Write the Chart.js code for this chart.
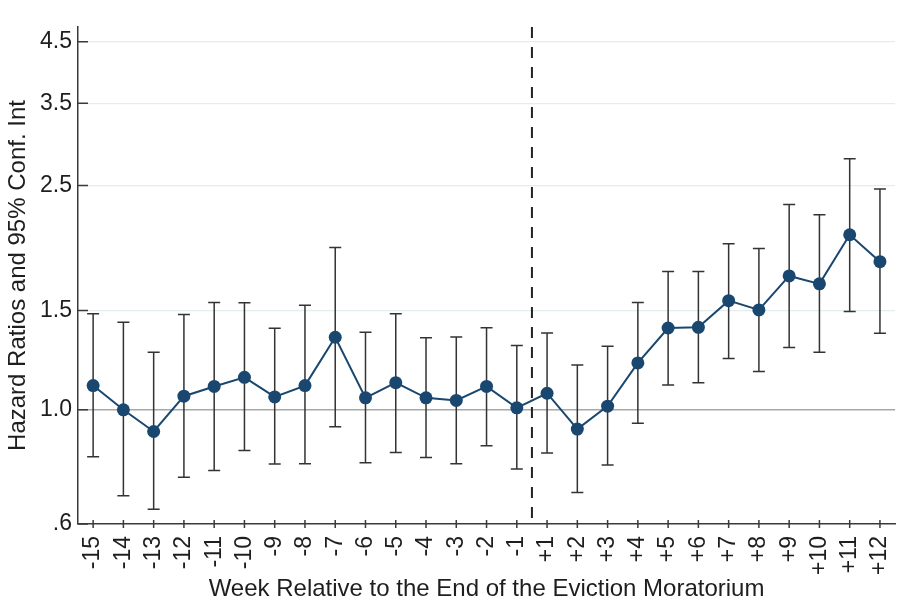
<!DOCTYPE html>
<html>
<head>
<meta charset="utf-8">
<title>Hazard Ratios by Week Relative to the End of the Eviction Moratorium</title>
<script src="https://cdn.jsdelivr.net/npm/chart.js@4/dist/chart.umd.min.js"></script>
<style>
  html, body { margin: 0; padding: 0; background: #ffffff; }
  #wrap { width: 920px; height: 607px; }
</style>
</head>
<body>
<div id="wrap"><canvas id="chart" width="920" height="607"></canvas></div>
<script>
// Weeks relative to the end of the moratorium
const weeks = ['-15','-14','-13','-12','-11','-10','-9','-8','-7','-6','-5','-4','-3','-2','-1',
               '+1','+2','+3','+4','+5','+6','+7','+8','+9','+10','+11','+12'];

// Hazard ratio point estimates
const hazardRatio = [1.104, 1.000, 0.915, 1.057, 1.100, 1.142, 1.054, 1.104, 1.345, 1.050, 1.117, 1.050, 1.039, 1.100, 1.008,
                     1.070, 0.924, 1.015, 1.211, 1.397, 1.401, 1.562, 1.504, 1.728, 1.673, 2.045, 1.832];

// 95% confidence interval bounds
const ciLower = [0.825, 0.704, 0.666, 0.759, 0.780, 0.847, 0.801, 0.802, 0.933, 0.805, 0.840, 0.823, 0.802, 0.863, 0.785,
                 0.838, 0.713, 0.798, 0.946, 1.107, 1.117, 1.233, 1.169, 1.290, 1.265, 1.494, 1.367];
const ciUpper = [1.480, 1.430, 1.265, 1.476, 1.551, 1.548, 1.395, 1.533, 1.942, 1.373, 1.481, 1.343, 1.347, 1.399, 1.300,
                 1.369, 1.201, 1.297, 1.551, 1.759, 1.759, 1.971, 1.934, 2.315, 2.219, 2.789, 2.465];

// Y axis (log scale) range, ticks and their labels
const yAxisMin = 0.627;
const yAxisMax = 4.78;
const yTickValues = [0.627, 1.0, 1.5, 2.5, 3.5, 4.5];
const yTickLabels = ['.6', '1.0', '1.5', '2.5', '3.5', '4.5'];

// Index after which the moratorium ends (between -1 and +1)
const moratoriumEndAfter = 14;

const FONT = "'Liberation Sans', Arial, sans-serif";
const TEXT = '#1e1e1e';
const AXIS = '#3a3a3a';
const NAVY = '#1a476f';

const annotations = {
  id: 'annotations',
  beforeDatasetsDraw(chart) {
    const { ctx, chartArea, scales: { x, y } } = chart;
    ctx.save();
    // reference line at HR = 1
    const y1 = y.getPixelForValue(1);
    ctx.strokeStyle = '#a8a8a8';
    ctx.lineWidth = 1.5;
    ctx.beginPath();
    ctx.moveTo(chartArea.left, y1);
    ctx.lineTo(chartArea.right, y1);
    ctx.stroke();

    // confidence interval whiskers
    ctx.strokeStyle = '#333333';
    ctx.lineWidth = 1.5;
    const cap = 6;
    weeks.forEach((w, i) => {
      const px = x.getPixelForValue(i);
      const top = y.getPixelForValue(ciUpper[i]);
      const bot = y.getPixelForValue(ciLower[i]);
      ctx.beginPath();
      ctx.moveTo(px, top); ctx.lineTo(px, bot);
      ctx.moveTo(px - cap, top); ctx.lineTo(px + cap, top);
      ctx.moveTo(px - cap, bot); ctx.lineTo(px + cap, bot);
      ctx.stroke();
    });

    // dashed line marking the end of the moratorium
    const xm = (x.getPixelForValue(moratoriumEndAfter) + x.getPixelForValue(moratoriumEndAfter + 1)) / 2;
    ctx.strokeStyle = '#222222';
    ctx.lineWidth = 2;
    ctx.setLineDash([11, 9]);
    ctx.beginPath();
    ctx.moveTo(xm, chartArea.top);
    ctx.lineTo(xm, chartArea.bottom);
    ctx.stroke();
    ctx.restore();
  },
  afterDraw(chart) {
    const { ctx, chartArea, scales: { x, y } } = chart;
    ctx.save();
    ctx.strokeStyle = AXIS;
    ctx.lineWidth = 1.5;
    ctx.beginPath();
    // y ticks point into the plot
    y.ticks.forEach(t => {
      const py = y.getPixelForValue(t.value);
      ctx.moveTo(chartArea.left, py);
      ctx.lineTo(chartArea.left + 10, py);
    });
    // x ticks cross the axis
    x.ticks.forEach((t, i) => {
      const px = x.getPixelForTick(i);
      ctx.moveTo(px, chartArea.bottom - 4);
      ctx.lineTo(px, chartArea.bottom + 4);
    });
    ctx.stroke();
    ctx.restore();
  }
};

new Chart(document.getElementById('chart'), {
  type: 'line',
  data: {
    labels: weeks,
    datasets: [{
      data: hazardRatio,
      borderColor: NAVY,
      backgroundColor: NAVY,
      borderWidth: 2,
      pointRadius: 6.5,
      pointBorderWidth: 0,
      pointBackgroundColor: NAVY,
      tension: 0,
      fill: false
    }]
  },
  options: {
    responsive: false,
    animation: false,
    events: [],
    layout: { padding: { top: 27, right: 24, left: 0, bottom: 0 } },
    plugins: {
      legend: { display: false },
      tooltip: { enabled: false }
    },
    scales: {
      x: {
        type: 'category',
        offset: true,
        grid: { display: false, drawTicks: false },
        border: { display: true, color: AXIS, width: 1.5 },
        ticks: {
          color: TEXT,
          font: { family: FONT, size: 23 },
          minRotation: 90,
          maxRotation: 90,
          autoSkip: false,
          padding: 12
        },
        title: {
          display: true,
          text: 'Week Relative to the End of the Eviction Moratorium',
          color: TEXT,
          font: { family: FONT, size: 24 },
          padding: { top: 0, bottom: 3 }
        },
        afterFit(scale) { scale.height = 83; }
      },
      y: {
        type: 'logarithmic',
        bounds: 'data',
        min: yAxisMin,
        max: yAxisMax,
        afterBuildTicks(scale) {
          scale.ticks = yTickValues.map(v => ({ value: v }));
        },
        grid: {
          drawTicks: false,
          lineWidth: 1.2,
          color(ctx) {
            const v = ctx.tick && ctx.tick.value;
            if (v === 1 || v === yAxisMin) return 'rgba(0,0,0,0)';
            return '#e3ecef';
          }
        },
        border: { display: true, color: AXIS, width: 1.5 },
        ticks: {
          color: TEXT,
          font: { family: FONT, size: 23 },
          padding: 6,
          autoSkip: false,
          callback(value) {
            const i = yTickValues.indexOf(value);
            return i >= 0 ? yTickLabels[i] : '';
          }
        },
        title: {
          display: true,
          text: 'Hazard Ratios and 95% Conf. Int',
          color: TEXT,
          font: { family: FONT, size: 24 },
          padding: { top: 4, bottom: 0 }
        },
        afterFit(scale) { scale.width = 78; }
      }
    }
  },
  plugins: [annotations]
});
</script>
</body>
</html>
